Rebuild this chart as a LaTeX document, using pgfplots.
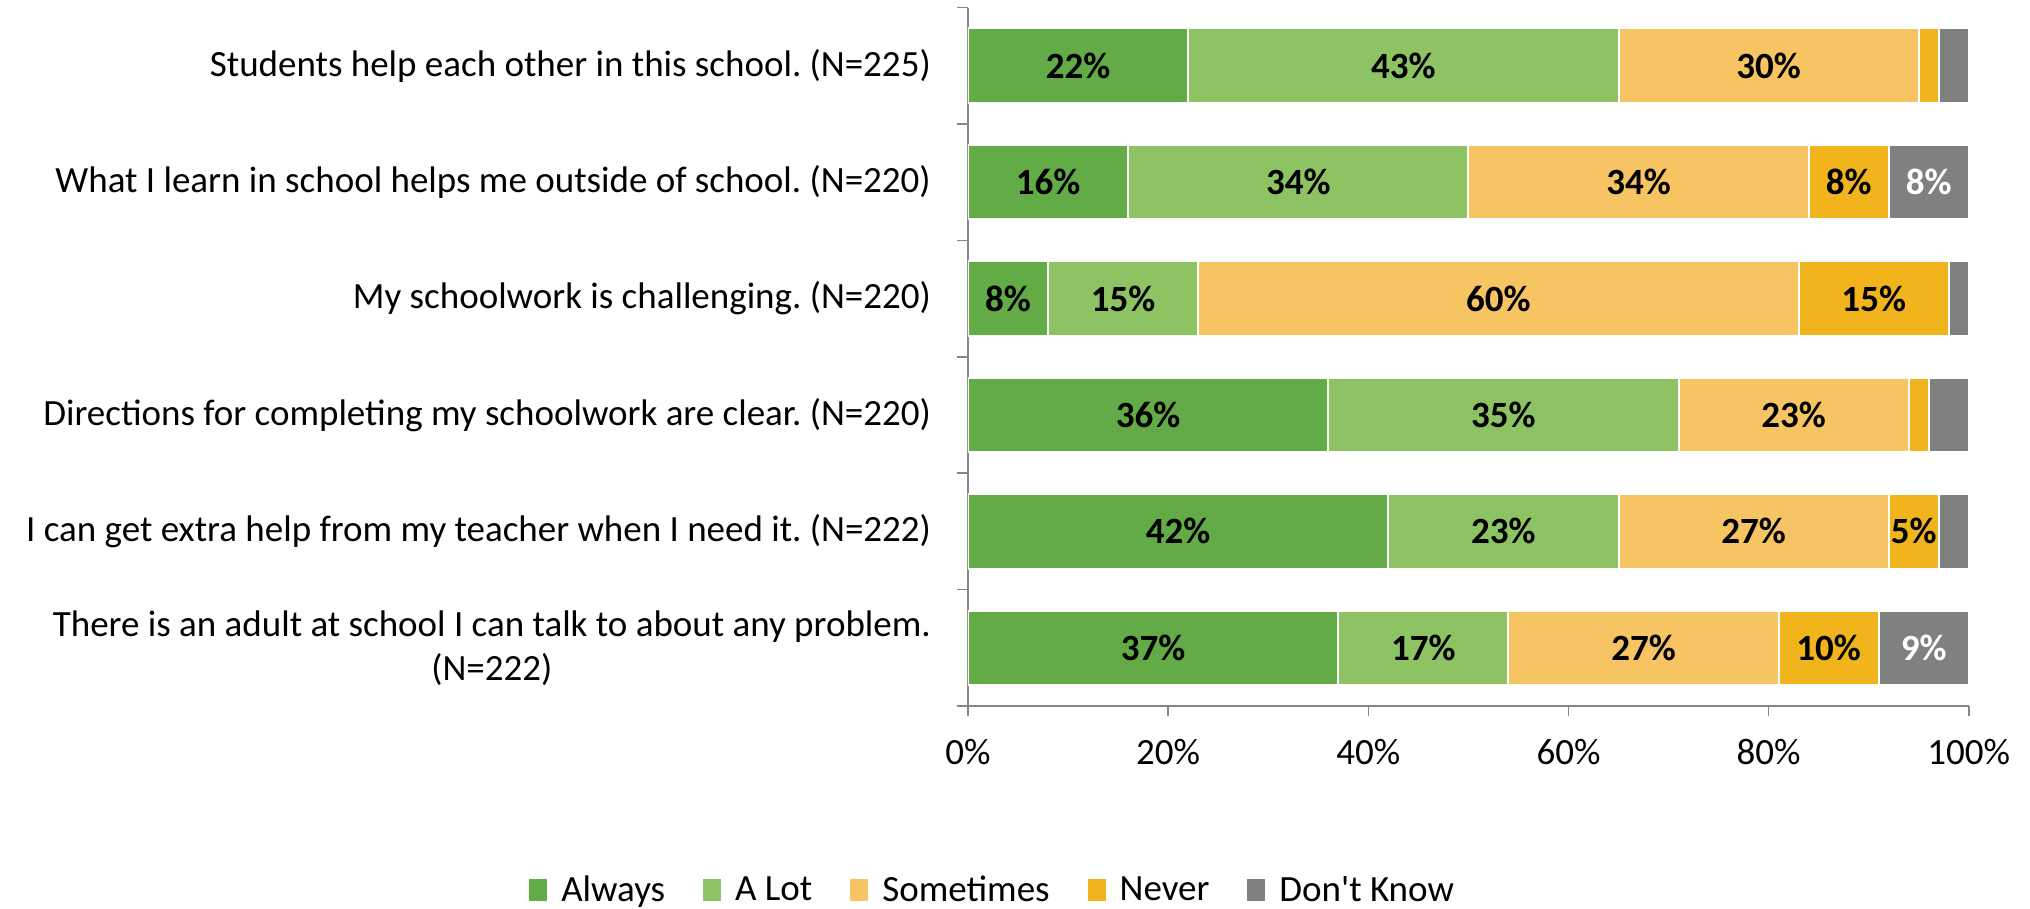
\documentclass[border=0pt]{standalone}
\usepackage{pgfplots}
\pgfplotsset{compat=1.18}
\usepackage{pgfplotstable}
\usepackage{fontspec}
\setmainfont{Carlito}[Ligatures=TeXOff]
\frenchspacing

\definecolor{always}{RGB}{99,171,70}
\definecolor{alot}{RGB}{141,195,99}
\definecolor{sometimes}{RGB}{246,196,98}
\definecolor{never}{RGB}{241,180,29}
\definecolor{dontknow}{RGB}{128,128,128}
\definecolor{axisgray}{RGB}{134,134,134}

\newcommand{\cf}{\fontsize{18.5}{22}\selectfont}

% percent per answer, top row first
\pgfplotstableread{
row always alot sometimes never dk
0 22 43 30 2 3
1 16 34 34 8 8
2 8 15 60 15 2
3 36 35 23 2 4
4 42 23 27 5 3
5 37 17 27 10 9
}\survey

% labels sit in the middle of each segment already; small ones are left out
\pgfplotsset{
  seg/.style n args={3}{
    fill=#1, draw=white, line width=1pt,
    visualization depends on={\thisrow{#2}\as\segv},
    nodes near coords={\pgfmathtruncatemacro\segi{\segv}\ifnum\segi<5 \else\segi\%\fi},
    every node near coord/.style={anchor=center, font=\cf\bfseries, text=#3},
  },
}

\begin{document}
\begin{tikzpicture}
\begin{axis}[
  at={(484pt,101.5pt)}, anchor=south west,
  scale only axis, width=500.4pt, height=349.25pt,
  xbar stacked, bar width=0.64,
  xmin=0, xmax=100, ymin=-0.5, ymax=5.5, y dir=reverse,
  axis x line*=bottom, axis y line*=left,
  axis line style={axisgray, line width=0.8pt},
  tick align=outside,
  major tick length=5pt, minor tick length=5.5pt,
  tick style={axisgray, line width=0.8pt},
  major y tick style={draw=none},
  /pgf/number format/assume math mode=true,
  xtick={0,20,...,100},
  xticklabel={\pgfmathprintnumber{\tick}\%},
  xticklabel style={font=\cf, yshift=-8pt},
  ytick={0,...,5},
  minor ytick={-0.5,0.5,...,5.5},
  yticklabels={
    {Students help each other in this school. (N=225)},
    {What I learn in school helps me outside of school. (N=220)},
    {My schoolwork is challenging. (N=220)},
    {Directions for completing my schoolwork are clear. (N=220)},
    {I can get extra help from my teacher when I need it. (N=222)},
    {There is an adult at school I can talk to about any problem.\\(N=222)}},
  yticklabel style={font=\cf, align=center, xshift=-10pt},
  legend style={at={(0.0256,-0.264)}, anchor=center, draw=none,
    font=\cf, legend columns=5,
    /tikz/every even column/.append style={column sep=17pt}},
  legend image code/.code={\fill[#1, draw=none] (0pt,-5.5pt) rectangle (9pt,5.5pt);
    \path (13.5pt,0pt);},
]
\addplot[seg={always}{always}{black}] table[x=always, y=row] {\survey};
\addplot[seg={alot}{alot}{black}] table[x=alot, y=row] {\survey};
\addplot[seg={sometimes}{sometimes}{black}] table[x=sometimes, y=row] {\survey};
\addplot[seg={never}{never}{black}] table[x=never, y=row] {\survey};
\addplot[seg={dontknow}{dk}{white}] table[x=dk, y=row] {\survey};
\legend{Always, A Lot, Sometimes, Never, Don't Know}
\end{axis}
\pgfresetboundingbox
\path[use as bounding box] (0,0) rectangle (1015pt,454.5pt);
\end{tikzpicture}
\end{document}
